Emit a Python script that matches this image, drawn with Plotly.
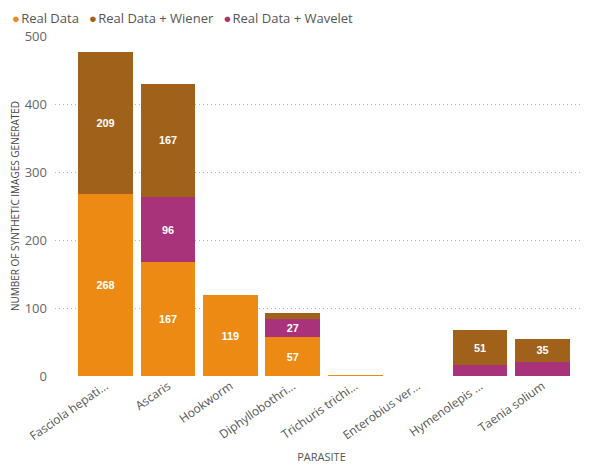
import plotly.graph_objects as go

categories = ["Fasciola hepati...", "Ascaris", "Hookworm", "Diphyllobothri...",
              "Trichuris trichi...", "Enterobius ver...", "Hymenolepis ...", "Taenia solium"]
real_data = [268, 167, 119, 57, 1, 0, 0, 0]
real_wavelet = [0, 96, 0, 27, 0, 0, 16, 20]
real_wiener = [209, 167, 0, 8, 0, 0, 51, 35]

series_names = ["Real Data", "Real Data + Wavelet", "Real Data + Wiener"]
series_values = [real_data, real_wavelet, real_wiener]
colors = {"Real Data": "#EC8A14", "Real Data + Wavelet": "#A8337A", "Real Data + Wiener": "#A0621A"}
legend_order = ["Real Data", "Real Data + Wiener", "Real Data + Wavelet"]

FONT = "Open Sans"

def label(v):
    return str(v) if v >= 25 else ""

fig = go.Figure()
for name, vals in zip(series_names, series_values):
    fig.add_trace(go.Bar(
        x=categories, y=vals, name=name,
        marker=dict(color=colors[name], line=dict(width=0)),
        text=[label(v) for v in vals],
        textposition="inside", insidetextanchor="middle", textangle=0,
        textfont=dict(color="white", size=15, family="Liberation Sans", weight="bold"),
        showlegend=False, hoverinfo="x+y+name",
    ))

# legend drawn as a single text line with coloured dots
legend_html = "&nbsp;&nbsp;&nbsp;".join(
    f"<span style='color:{colors[n]}'>●</span>&#8202;{n}" for n in legend_order)
fig.add_annotation(
    text=legend_html, xref="paper", yref="paper",
    x=-0.084, y=1.054, xanchor="left", yanchor="middle", showarrow=False,
    font=dict(size=13, color="#555555", family=FONT),
)

fig.update_layout(
    barmode="stack",
    bargap=0.12,
    showlegend=False,
    width=590, height=466,
    margin=dict(l=47, r=10, t=28, b=98, autoexpand=False),
    plot_bgcolor="white", paper_bgcolor="white",
    font=dict(family=FONT, color="#666666"),
    uniformtext=dict(minsize=8, mode="show"),
)
fig.update_xaxes(
    range=[-0.81, 7.73],
    tickangle=-35,
    automargin=False,
    tickfont=dict(size=12, color="#555555", family=FONT),
    title=dict(text="PARASITE", font=dict(size=11, color="#555555", family=FONT), standoff=10),
    showgrid=False, showline=False, ticks="",
)
fig.update_yaxes(
    range=[0, 500],
    automargin=False,
    ticklabelstandoff=7,
    tickvals=[0, 100, 200, 300, 400, 500],
    tickfont=dict(size=13, color="#666666", family=FONT),
    title=dict(text="NUMBER OF SYNTHETIC IMAGES GENERATED",
               font=dict(size=10, color="#444444", family=FONT), standoff=8),
    showgrid=True, gridcolor="#B4B4B4", griddash="1px,3px", gridwidth=1,
    zeroline=False, showline=False, ticks="",
)

fig.write_html("out.html")
